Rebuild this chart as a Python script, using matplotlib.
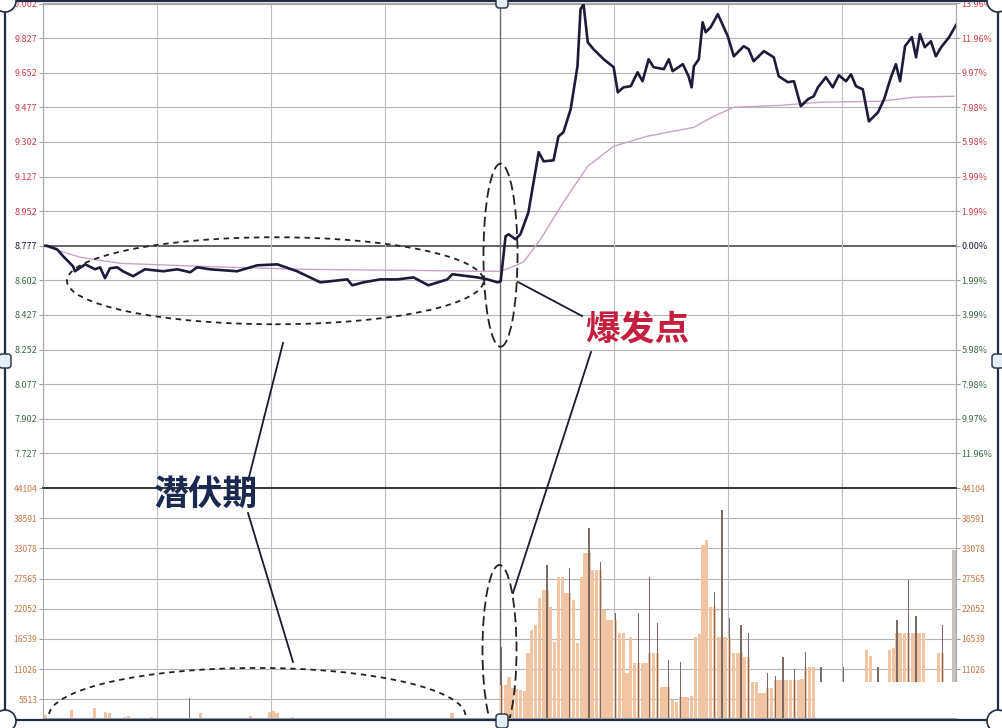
import numpy as np
import matplotlib
matplotlib.use('Agg')
import matplotlib.pyplot as plt
from matplotlib.patches import Ellipse, Rectangle, FancyBboxPatch, Circle
from matplotlib.lines import Line2D

plt.rcParams['font.family'] = ['Noto Sans CJK SC', 'DejaVu Sans']

# 价格刻度（左）与涨跌幅刻度（右）
price_labels = ['10.002', '9.827', '9.652', '9.477', '9.302', '9.127', '8.952', '8.777',
                '8.602', '8.427', '8.252', '8.077', '7.902', '7.727']
pct_labels = ['13.96%', '11.96%', '9.97%', '7.98%', '5.98%', '3.99%', '1.99%', '0.00%',
              '1.99%', '3.99%', '5.98%', '7.98%', '9.97%', '11.96%']
base_price = 8.777
price_low = 7.552

# 成交量刻度
vol_labels = ['44104', '38591', '33078', '27565', '22052', '16539', '11026', '5513']

# 分时价格线（分钟, 价格）
price_minutes = [0, 1.05, 3.7, 5.3, 7.9, 8.4, 11.1, 13.7, 15.0, 16.3, 17.6, 19.5, 21.0, 23.7,
                 26.8, 31.6, 35.3, 38.7, 40.5, 43.9, 51.0, 56.3, 61.6, 66.8, 72.9, 80.0,
                 81.3, 84.2, 88.7, 93.2, 97.4, 101.3, 106.3, 107.6, 114.2, 116.8, 119.5,
                 120.3, 121.6, 122.4, 124.2, 125.5, 127.6, 130.3, 131.6, 134.2, 135.5, 136.8,
                 138.7, 140.5, 141.3, 142.1, 143.2, 144.7, 147.4, 150.0, 151.1, 152.6, 154.5,
                 156.3, 157.6, 159.2, 160.5, 163.2, 164.5, 165.5, 168.2, 169.7, 170.5, 171.1,
                 172.4, 173.4, 174.2, 175.5, 177.4, 180.0, 181.6, 184.2, 185.5, 186.8, 189.5,
                 192.1, 193.4, 195.8, 197.4, 199.2, 201.1, 202.6, 203.7, 205.8, 207.6, 209.2,
                 211.1, 212.4, 213.7, 215.5, 217.1, 219.5, 221.1, 222.9, 224.2, 225.3, 226.6,
                 228.4, 229.5, 230.5, 231.8, 233.4, 234.7, 236.1, 238.2, 240.0]
price_values = [8.777, 8.777, 8.759, 8.724, 8.673, 8.648, 8.683, 8.658, 8.668, 8.613, 8.663,
                8.668, 8.648, 8.623, 8.658, 8.648, 8.658, 8.643, 8.668, 8.658, 8.648, 8.678,
                8.683, 8.648, 8.592, 8.607, 8.577, 8.592, 8.607, 8.607, 8.617, 8.577, 8.607,
                8.633, 8.617, 8.607, 8.592,
                8.597, 8.825, 8.835, 8.810, 8.835, 8.946, 9.250, 9.204, 9.209, 9.330, 9.351,
                9.467, 9.685, 9.973, 9.998, 9.806, 9.771, 9.720, 9.680, 9.553, 9.578, 9.584,
                9.654, 9.609, 9.720, 9.680, 9.670, 9.720, 9.660, 9.695, 9.634, 9.578, 9.685,
                9.720, 9.907, 9.857, 9.882, 9.948, 9.837, 9.735, 9.786, 9.771, 9.710, 9.761,
                9.730, 9.634, 9.604, 9.609, 9.483, 9.518, 9.533, 9.578, 9.629, 9.578, 9.639,
                9.609, 9.644, 9.584, 9.568, 9.406, 9.452, 9.518, 9.629, 9.695, 9.609, 9.786,
                9.832, 9.730, 9.847, 9.781, 9.811, 9.735, 9.781, 9.832, 9.893]

# 均价线
avg_minutes = [0, 9.7, 20.3, 41.3, 67.6, 93.9, 115.0, 120.3, 123.7, 126.3, 130.8, 136.8,
               143.2, 150.0, 158.9, 171.1, 176.3, 181.6, 193.9, 204.5, 220.3, 228.9, 239.5]
avg_values = [8.777, 8.719, 8.688, 8.673, 8.658, 8.653, 8.648, 8.648, 8.673, 8.694, 8.810,
              8.997, 9.179, 9.280, 9.331, 9.376, 9.432, 9.477, 9.487, 9.503, 9.508, 9.528,
              9.533]

# 每分钟成交量（240分钟）
volume = [
    2600, 1800, 1500, 1400, 1600, 1500, 1700, 3600, 1500, 1400,
    1500, 1600, 1400, 3900, 1500, 1600, 3200, 3100, 1500, 1400,
    1500, 2300, 2400, 1500, 1400, 1600, 1500, 1400, 2300, 1500,
    1400, 1500, 1600, 1500, 1400, 1500, 1600, 1500, 5700, 1500,
    1400, 3000, 1500, 1400, 1600, 1500, 1400, 1500, 1600, 1500,
    1400, 1500, 1600, 1500, 2400, 1500, 1400, 1500, 1600, 3200,
    3300, 3000, 1600, 1500, 1400, 2300, 1500, 1400, 1500, 1600,
    1500, 1400, 1500, 1600, 1500, 1400, 1500, 1600, 1500, 1400,
    1500, 1600, 1500, 1400, 1500, 1600, 1500, 1400, 1500, 1600,
    1500, 1400, 1500, 1600, 1500, 1400, 1500, 1600, 1500, 1400,
    1500, 1600, 1500, 1400, 1500, 1600, 1500, 3000, 1500, 1400,
    1500, 1600, 1500, 1400, 1500, 1600, 1500, 1400, 1500, 2000,
    15000, 8200, 9600, 7600, 7400, 7200, 7000, 14000, 18200, 19000,
    24000, 25500, 30000, 22400, 16000, 27900, 27900, 25000, 29500, 23700,
    15800, 27900, 32200, 36800, 29100, 29100, 30600, 21800, 20000, 20000,
    21300, 17600, 17600, 10300, 16900, 12100, 21300, 12100, 12100, 27900,
    13900, 19400, 7800, 7800, 12700, 5400, 5000, 12300, 6000, 6000,
    6200, 16900, 17500, 33700, 34600, 22400, 25100, 16900, 40100, 16900,
    20400, 13900, 13900, 19000, 13200, 17600, 8700, 8700, 6700, 6700,
    10300, 7600, 9800, 9000, 13200, 9000, 9000, 11000, 9000, 9200,
    14200, 11400, 11400, 8500, 11400, 6000, 5800, 6200, 6000, 5900,
    11400, 6000, 6200, 5800, 6000, 6100, 14500, 13500, 6500, 11400,
    6000, 6000, 14500, 14900, 20000, 17600, 17600, 27300, 17600, 20800,
    17600, 17600, 8000, 8000, 8000, 14000, 19000, 3000, 3000, 32800,
]
# 细尖量柱（深色）所在分钟
spike_minutes = [38, 120, 132, 138, 143, 146, 150, 156, 159, 161, 164, 167, 176, 178, 180,
                 183, 185, 190, 192, 194, 197, 200, 204, 210, 219, 224, 227, 229, 236]

W, H = 1002, 728
fig = plt.figure(figsize=(W / 100, H / 100), dpi=100)
fig.patch.set_facecolor('white')

ax = fig.add_axes([43 / W, 1 - 488 / H, 913 / W, (488 - 3.5) / H])
axv = fig.add_axes([43 / W, 1 - 718 / H, 913 / W, (718 - 488) / H])

red_c, base_c, green_c, vol_c = '#d2404e', '#1a1a40', '#3d6b45', '#c8784a'

# ---- 价格区 ----
ax.set_xlim(0, 240)
ax.set_ylim(price_low, 10.002)
price_ticks = [float(s) for s in price_labels]
for p in price_ticks:
    if p == base_price:
        ax.axhline(p, color='#3a3a3a', lw=1.1, zorder=1)
    else:
        ax.axhline(p, color='#b4b4b4', lw=0.8, zorder=1)
for m in range(30, 240, 30):
    ax.axvline(m, color='#6a6a6a' if m == 120 else '#bcbcbc', lw=1.0 if m == 120 else 0.8, zorder=1)

ax.plot(avg_minutes, avg_values, color='#c9a3c6', lw=1.0, zorder=4)
ax.plot(price_minutes, price_values, color='#1d1b3a', lw=1.9, zorder=5,
        solid_joinstyle='round')

ax.set_xticks([])
ax.set_yticks(price_ticks)
ax.set_yticklabels(price_labels)
ax.tick_params(axis='y', direction='out', length=3, width=0.6, color='#888888',
               labelsize=6.5, pad=1)
for lab, p in zip(ax.get_yticklabels(), price_ticks):
    lab.set_color(red_c if p > base_price else (base_c if p == base_price else green_c))

axr = ax.twinx()
axr.set_ylim(price_low, 10.002)
axr.set_yticks(price_ticks)
axr.set_yticklabels(pct_labels)
axr.tick_params(axis='y', direction='out', length=3, width=0.6, color='#888888',
                labelsize=6.5, pad=1)
for lab, p in zip(axr.get_yticklabels(), price_ticks):
    lab.set_color(red_c if p > base_price else (base_c if p == base_price else green_c))

for a in (ax, axr):
    for s in ('left', 'right', 'top'):
        a.spines[s].set_color('#a8a8a8')
        a.spines[s].set_linewidth(0.8)
    a.spines['bottom'].set_color('#3a3a3a')
    a.spines['bottom'].set_linewidth(1.2)

# ---- 成交量区 ----
axv.set_xlim(0, 240)
axv.set_ylim(2100, 44104)
vol_ticks = [int(s) for s in vol_labels]
for v in vol_ticks:
    axv.axhline(v, color='#b4b4b4', lw=0.8, zorder=1)
for m in range(30, 240, 30):
    axv.axvline(m, color='#6a6a6a' if m == 120 else '#bcbcbc', lw=1.0 if m == 120 else 0.8, zorder=1)

vol = np.array(volume, dtype=float)
tan_h = vol.copy()
for m in spike_minutes:
    nb = max(vol[m - 1], vol[m + 1] if m + 1 < len(vol) else 0)
    tan_h[m] = min(vol[m], nb)
xs = np.arange(len(vol)) + 0.5
colors = ['#f2c4a2'] * len(vol)
colors[-1] = '#c9c0b8'
axv.bar(xs, tan_h, width=0.85, color=colors, lw=0, zorder=2)
axv.bar(xs[spike_minutes], vol[spike_minutes], width=0.32, color='#7d6a62', lw=0, zorder=3)

axv.set_xticks([])
axv.set_yticks(vol_ticks)
axv.set_yticklabels(vol_labels)
axv.tick_params(axis='y', direction='out', length=3, width=0.6, color='#888888',
                labelsize=6.2, pad=1, labelcolor=vol_c, labelright=True, right=True)
for s in ('left', 'right', 'bottom'):
    axv.spines[s].set_color('#a8a8a8')
    axv.spines[s].set_linewidth(0.8)
axv.spines['top'].set_color('#3a3a3a')
axv.spines['top'].set_linewidth(1.2)

# ---- 虚线椭圆标注 ----
ax.add_patch(Ellipse((61.05, 8.600), 109.5, 0.440, fill=False, ec='#222222', lw=1.3,
                     ls=(0, (3, 2.6)), zorder=6))
ax.add_patch(Ellipse((120.26, 8.729), 8.95, 0.926, fill=False, ec='#222222', lw=1.3,
                     ls=(0, (5.5, 2.6)), zorder=6))
axv.add_patch(Ellipse((120.0, 14530), 8.95, 31030, fill=False, ec='#222222', lw=1.3,
                      ls=(0, (5.5, 2.6)), zorder=6))
axv.add_patch(Ellipse((56.3, 2480), 109.5, 17520, fill=False, ec='#222222', lw=1.3,
                      ls=(0, (3, 2.6)), zorder=6))

# ---- 像素坐标装饰 ----
T = fig.dpi_scale_trans


def px(x, y):
    return x / 100, (H - y) / 100


# 水印遮挡的白块
x0, y0 = px(815, 718)
fig.add_artist(Rectangle((x0, y0), (998 - 815) / 100, (718 - 682) / 100, transform=T,
                         fc='white', ec='none', zorder=10))

# 引线
for (x1, y1), (x2, y2) in [((283, 343), (248, 481)), ((248, 513), (293, 662)),
                           ((518, 282), (582, 316)), ((591, 352), (513, 593))]:
    a, b = px(x1, y1)
    c, d = px(x2, y2)
    fig.add_artist(Line2D([a, c], [b, d], transform=T, color='#1a1a30', lw=1.3, zorder=11))

tx, ty = px(205, 494)
fig.text(tx, ty, '潜伏期', transform=T, ha='center', va='center', fontsize=25,
         fontweight='bold', color='#1b2850', zorder=12)
tx, ty = px(637, 330)
fig.text(tx, ty, '爆发点', transform=T, ha='center', va='center', fontsize=25,
         fontweight='bold', color='#c51f3f', zorder=12)

# 截图选框
fx, fy = px(5, 720)
fig.add_artist(Rectangle((fx, fy), (998 - 5) / 100, (720 - 1) / 100, transform=T,
                         fill=False, ec='#1f2d45', lw=1.6, zorder=13))
for cx, cy in [(502, 1), (502, 721), (5, 361), (998, 361)]:
    a, b = px(cx - 6, cy + 7)
    fig.add_artist(FancyBboxPatch((a, b), 0.12, 0.14, boxstyle='round,pad=0,rounding_size=0.03',
                                  transform=T, fc='#e6eef7', ec='#1f2d45', lw=1.0, zorder=14))
for cx, cy in [(5, 1), (998, 1), (5, 721), (998, 721)]:
    a, b = px(cx, cy)
    fig.add_artist(Circle((a, b), 0.11, transform=T, fc='white', ec='#1f2d45', lw=1.2,
                          zorder=14))

fig.savefig('out.png', dpi=100)
